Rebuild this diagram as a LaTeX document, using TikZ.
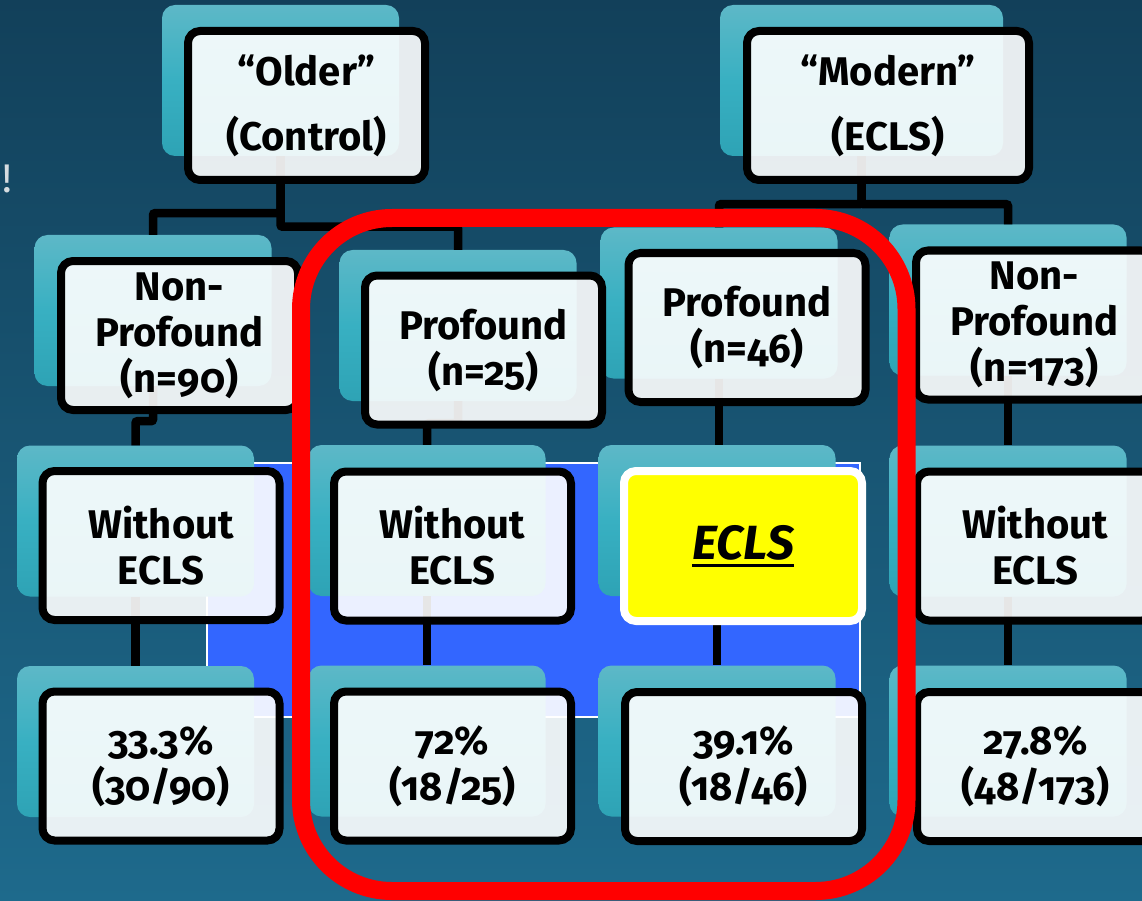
\documentclass[tikz,border=0pt]{standalone}
\usepackage{fontspec}
\newfontfamily\boxfont{Fira Sans}[Numbers=OldStyle,RawFeature=+onum]

\definecolor{bgtop}{HTML}{12405A}
\definecolor{bgbot}{HTML}{1E6A8C}
\definecolor{tealtop}{HTML}{5DB8C7}
\definecolor{tealmid}{HTML}{38B0C2}
\definecolor{tealbot}{HTML}{2EA3B5}
\definecolor{panelblue}{HTML}{3366FF}
\definecolor{hiyellow}{HTML}{FFFF00}
\definecolor{framered}{HTML}{FF0000}
\definecolor{marktext}{HTML}{D5DCE0}

% thick underline drawn under a word
\newcommand\thickul[1]{\setbox0\hbox{#1}\rlap{\rule[-7pt]{\wd0}{3pt}}\box0}

\tikzset{
  shadowbox/.style={rectangle, rounded corners=13, minimum width=237,
    minimum height=151, inner sep=0, draw=none,
    top color=tealtop, bottom color=tealbot, middle color=tealmid},
  card/.style={rectangle, rounded corners=12, draw=black, line width=8,
    fill=white, fill opacity=0.9, text opacity=1, text=black,
    minimum width=237, minimum height=149, inner sep=0, align=center,
    font=\boxfont\bfseries\fontsize{40}{46}\selectfont},
  headcard/.style={card, font=\boxfont\bfseries\fontsize{40}{65}\selectfont},
  hicard/.style={rectangle, rounded corners=12, draw=white, line width=8,
    fill=hiyellow, minimum width=238, minimum height=150, inner sep=0,
    align=center, font=\boxfont\bfseries\itshape\fontsize{48}{56}\selectfont},
  conn/.style={draw=black, line width=8.5, rounded corners=2},
  panel/.style={rectangle, fill=panelblue, draw=white, line width=1.2,
    minimum width=653, minimum height=254, inner sep=0},
  focusframe/.style={rectangle, draw=framered, line width=18,
    rounded corners=91, minimum width=605.5, minimum height=673, inner sep=0}
}

\begin{document}
\begin{tikzpicture}[x=1pt, y=-1pt]
  % canvas
  \useasboundingbox (0,0) rectangle (1142,901);
  \shade[top color=bgtop, bottom color=bgbot] (0,0) rectangle (1142,901);

  \node[font=\boxfont\fontsize{40}{46}\selectfont, text=marktext, inner sep=0]
    (mark) at (7.5,179) {!};

  % blue panel behind the middle rows
  \node[panel] (panel) at (533.5,590) {};

  % teal backing plates
  \node[shadowbox] (tOlder)  at (280.5,80.5) {};
  \node[shadowbox, minimum width=283] (tModern) at (861.5,80.5) {};
  \node[shadowbox] (tNp90)   at (153,310.5) {};
  \node[shadowbox] (tP25)    at (458,325.5) {};
  \node[shadowbox] (tP46)    at (719,303) {};
  \node[shadowbox] (tNp173)  at (1008,300) {};
  \node[shadowbox] (tWe1)    at (135.5,521) {};
  \node[shadowbox] (tWe2)    at (427,520.5) {};
  \node[shadowbox] (tEcls)   at (717,520.5) {};
  \node[shadowbox] (tWe4)    at (1008,521) {};
  \node[shadowbox] (tR1)     at (135.5,741.5) {};
  \node[shadowbox] (tR2)     at (427,741) {};
  \node[shadowbox] (tR3)     at (717,741) {};
  \node[shadowbox] (tR4)     at (1008,741) {};

  % tree connectors
  \draw[conn] (tOlder.south) -- ++(0,57) -| (tNp90.north);
  \draw[conn] (tOlder.south) -- ++(0,70.5) -| (tP25.north);
  \draw[conn] (tModern.south) -- ++(0,48) -| (tP46.north);
  \draw[conn] (tModern.south) -- ++(0,48) -| (tNp173.north);
  \draw[conn] (tNp90.south) -- ++(0,35) -| (tWe1.north);
  \draw[conn] (tP25.south) -- ++(0,22) -| (tWe2.north);
  \draw[conn] (tP46.south) -- (tP46.south |- tEcls.north);
  \draw[conn] (tNp173.south) -- (tWe4.north);
  \draw[conn] (tWe1.south) -- (tR1.north);
  \draw[conn] (tWe2.south) -- (tR2.north);
  \draw[conn] (tEcls.south) -- (tR3.north);
  \draw[conn] (tWe4.south) -- (tR4.north);

  % cards
  \node[headcard] (older) at (306.5,105.5) {“Older”\\(Control)};
  \node[headcard, minimum width=282] (modern) at (888,105.5) {“Modern”\\(ECLS)};
  \node[card] (np90)  at (179.5,335.5) {Non-\\Profound\\(n=90)};
  \node[card] (p25)   at (483.5,350)   {Profound\\(n=25)};
  \node[card] (p46)   at (747,327.5)   {Profound\\(n=46)};
  \node[card] (np173) at (1034.5,325)  {Non-\\Profound\\(n=173)};
  \node[card] (we1)   at (161,545.5)   {Without\\ECLS};
  \node[card] (we2)   at (452.5,546)   {Without\\ECLS};
  \node[hicard] (ecls) at (743,546)    {\thickul{ECLS}};
  \node[card] (we4)   at (1035.5,546)  {Without\\ECLS};
  \node[card] (r1)    at (161,766)     {33.3\%\\(30/90)};
  \node[card] (r2)    at (452.5,766)   {72\%\\(18/25)};
  \node[card] (r3)    at (743.5,766.5) {39.1\%\\(18/46)};
  \node[card] (r4)    at (1035.5,766.5) {27.8\%\\(48/173)};

  % red frame around the profound groups
  \node[focusframe] (focus) at (603.75,554.5) {};
\end{tikzpicture}
\end{document}
